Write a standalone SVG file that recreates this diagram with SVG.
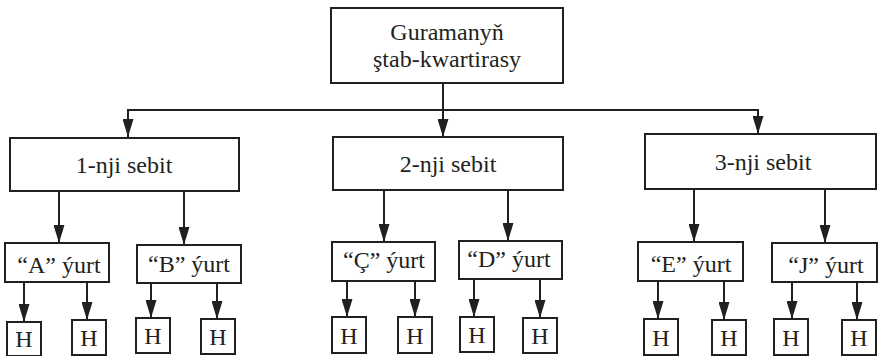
<svg xmlns="http://www.w3.org/2000/svg" width="878" height="356" viewBox="0 0 878 356">
<style>
.box{fill:#fff;stroke:#231f20;stroke-width:2}
.t{font-family:"Liberation Serif","Times New Roman",serif;font-size:24px;fill:#231f20;text-anchor:middle}
.c{fill:none;stroke:#231f20;stroke-width:2;marker-end:url(#ah)}
</style>
<defs>
<marker id="ah" viewBox="0 0 18 11" refX="18" refY="5.5" markerWidth="18" markerHeight="11" markerUnits="userSpaceOnUse" orient="auto">
<path d="M0,0 L18,5.5 L0,11 Z" fill="#231f20"/>
</marker>
</defs>
<rect width="878" height="356" fill="#fff"/>
<g id="connectors">
<path class="c" d="M443,83 V137"/>
<path class="c" d="M443,110 H128 V137"/>
<path class="c" d="M443,110 H758 V134"/>
<path class="c" d="M59,191 V243"/>
<path class="c" d="M184,191 V245"/>
<path class="c" d="M384,190 V242"/>
<path class="c" d="M508,190 V241"/>
<path class="c" d="M694,189 V242"/>
<path class="c" d="M825,189 V243"/>
<path class="c" d="M24,282 V322"/>
<path class="c" d="M87,282 V320"/>
<path class="c" d="M151,283 V318"/>
<path class="c" d="M217,283 V319"/>
<path class="c" d="M347,281 V317"/>
<path class="c" d="M415,281 V317"/>
<path class="c" d="M474,279 V317"/>
<path class="c" d="M540,279 V318"/>
<path class="c" d="M658,281 V319"/>
<path class="c" d="M724,281 V320"/>
<path class="c" d="M792,282 V319"/>
<path class="c" d="M857,282 V320"/>
</g>
<g id="hq"><rect class="box" x="331" y="8" width="232" height="75"/><text class="t" x="447" y="40">Guramanyň</text><text class="t" x="447" y="67">ştab-kwartirasy</text></g>
<g id="s1"><rect class="box" x="10" y="138" width="229" height="53"/><text class="t" x="124" y="173">1-nji sebit</text></g>
<g id="s2"><rect class="box" x="333" y="137" width="230" height="53"/><text class="t" x="448" y="172">2-nji sebit</text></g>
<g id="s3"><rect class="box" x="645" y="134" width="231" height="55"/><text class="t" x="763" y="170">3-nji sebit</text></g>
<g id="yA"><rect class="box" x="5" y="243" width="104" height="39"/><text class="t" x="59" y="273">“A” ýurt</text></g>
<g id="yB"><rect class="box" x="137" y="245" width="104" height="38"/><text class="t" x="189" y="272">“B” ýurt</text></g>
<g id="yC"><rect class="box" x="332" y="242" width="103" height="39"/><text class="t" x="384" y="268">“Ç” ýurt</text></g>
<g id="yD"><rect class="box" x="459" y="241" width="103" height="38"/><text class="t" x="509" y="267">“D” ýurt</text></g>
<g id="yE"><rect class="box" x="638" y="242" width="105" height="39"/><text class="t" x="691" y="272">“E” ýurt</text></g>
<g id="yJ"><rect class="box" x="772" y="243" width="105" height="39"/><text class="t" x="826" y="273">“J” ýurt</text></g>
<g id="h1"><rect class="box" x="7" y="322" width="34" height="34"/><text class="t" x="24" y="347">H</text></g>
<g id="h2"><rect class="box" x="72" y="320" width="34" height="35"/><text class="t" x="89" y="346">H</text></g>
<g id="h3"><rect class="box" x="136" y="318" width="34" height="35"/><text class="t" x="153" y="344">H</text></g>
<g id="h4"><rect class="box" x="201" y="319" width="34" height="35"/><text class="t" x="218" y="345">H</text></g>
<g id="h5"><rect class="box" x="332" y="317" width="34" height="36"/><text class="t" x="349" y="344">H</text></g>
<g id="h6"><rect class="box" x="398" y="317" width="34" height="36"/><text class="t" x="415" y="344">H</text></g>
<g id="h7"><rect class="box" x="460" y="317" width="34" height="35"/><text class="t" x="477" y="343">H</text></g>
<g id="h8"><rect class="box" x="523" y="318" width="34" height="35"/><text class="t" x="540" y="344">H</text></g>
<g id="h9"><rect class="box" x="644" y="319" width="34" height="36"/><text class="t" x="661" y="346">H</text></g>
<g id="h10"><rect class="box" x="712" y="320" width="34" height="35"/><text class="t" x="729" y="346">H</text></g>
<g id="h11"><rect class="box" x="774" y="319" width="34" height="36"/><text class="t" x="791" y="346">H</text></g>
<g id="h12"><rect class="box" x="842" y="320" width="34" height="35"/><text class="t" x="859" y="346">H</text></g>
</svg>
